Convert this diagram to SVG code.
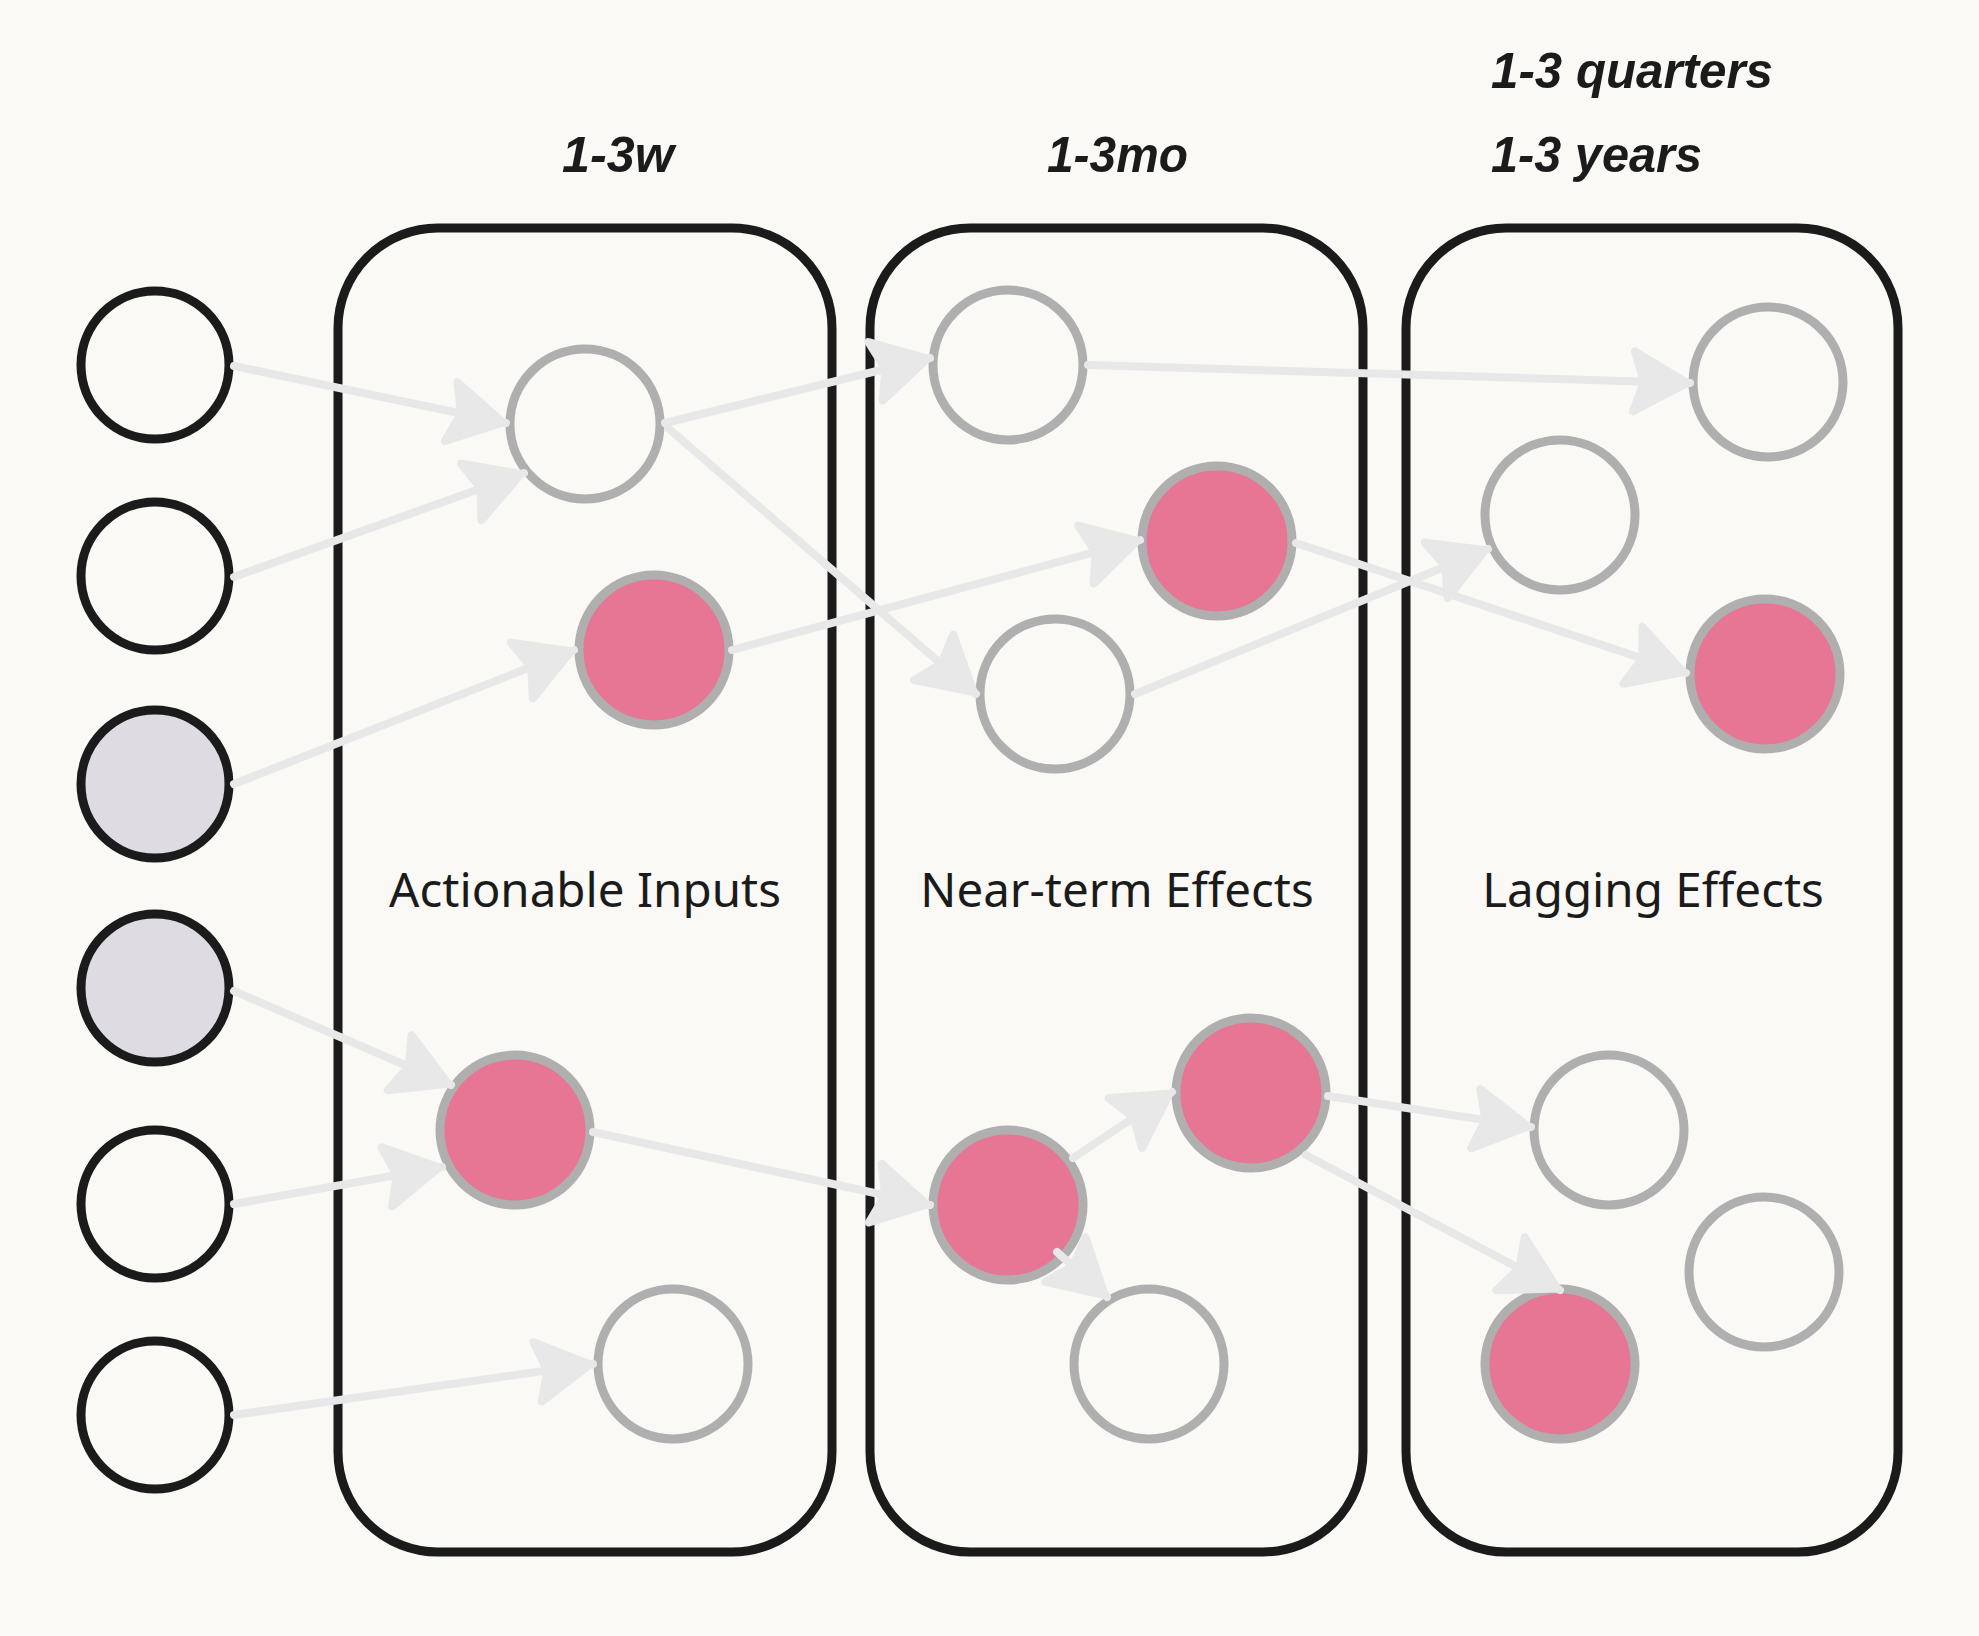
<svg xmlns="http://www.w3.org/2000/svg" width="1979" height="1636" viewBox="0 0 1979 1636">
  <defs>
    <style>
      .box { fill: none; stroke: #1b1b1b; stroke-width: 9; }
      .src { stroke: #1b1b1b; stroke-width: 9; fill: none; }
      .src.alt { fill: #dedbe3; }
      .node { stroke: #afafaf; stroke-width: 9; fill: none; }
      .node.hot { fill: #e77594; }
      .conn { stroke: #e8e8e8; stroke-width: 8; stroke-linecap: round; fill: none; marker-end: url(#ah); }
      .lbl { font-family: "Noto Sans", "Liberation Sans", sans-serif; font-size: 47.5px; fill: #1b1b1b; text-anchor: middle; }
      .hand { font-family: "Liberation Sans", "DejaVu Sans", sans-serif; font-size: 50px; font-weight: bold; font-style: italic; fill: #1b1b1b; }
    </style>
    <marker id="ah" markerUnits="userSpaceOnUse" markerWidth="90" markerHeight="90" viewBox="-70 -45 90 90" refX="0" refY="0" orient="auto" overflow="visible">
      <path d="M-3,0 L-56,-30 L-46,0 L-56,30 Z" fill="#e8e8e8" stroke="#e8e8e8" stroke-width="8" stroke-linejoin="round"/>
    </marker>
  </defs>
  <rect x="0" y="0" width="1979" height="1636" fill="#faf9f5"/>

  <g id="containers">
    <g id="box-actionable">
      <rect class="box" x="338" y="228" width="494" height="1324" rx="100" ry="100"/>
      <text class="lbl" x="585" y="907">Actionable Inputs</text>
    </g>
    <g id="box-nearterm">
      <rect class="box" x="870" y="228" width="493" height="1324" rx="100" ry="100"/>
      <text class="lbl" x="1117" y="907">Near-term Effects</text>
    </g>
    <g id="box-lagging">
      <rect class="box" x="1406" y="228" width="492" height="1324" rx="100" ry="100"/>
      <text class="lbl" x="1653" y="907">Lagging Effects</text>
    </g>
  </g>

  <g id="time-labels">
    <text class="hand" x="562" y="172" textLength="112" lengthAdjust="spacingAndGlyphs">1-3w</text>
    <text class="hand" x="1047" y="172" textLength="141" lengthAdjust="spacingAndGlyphs">1-3mo</text>
    <text class="hand" x="1491" y="88" textLength="282" lengthAdjust="spacingAndGlyphs">1-3 quarters</text>
    <text class="hand" x="1491" y="172" textLength="211" lengthAdjust="spacingAndGlyphs">1-3 years</text>
  </g>

  <g id="sources">
    <g id="L1"><circle class="src" cx="155" cy="365" r="74"/></g>
    <g id="L2"><circle class="src" cx="155" cy="576" r="74"/></g>
    <g id="L3"><circle class="src alt" cx="155" cy="784" r="74"/></g>
    <g id="L4"><circle class="src alt" cx="155" cy="988" r="74"/></g>
    <g id="L5"><circle class="src" cx="155" cy="1204" r="74"/></g>
    <g id="L6"><circle class="src" cx="155" cy="1415" r="74"/></g>
  </g>

  <g id="nodes">
    <g id="A1"><circle class="node" cx="585" cy="424" r="75"/></g>
    <g id="A2"><circle class="node hot" cx="654" cy="650" r="75"/></g>
    <g id="A3"><circle class="node hot" cx="515" cy="1130" r="75"/></g>
    <g id="A4"><circle class="node" cx="673" cy="1364" r="75"/></g>

    <g id="B1"><circle class="node" cx="1008" cy="365" r="75"/></g>
    <g id="B2"><circle class="node hot" cx="1217" cy="541" r="75"/></g>
    <g id="B3"><circle class="node" cx="1055" cy="694" r="75"/></g>
    <g id="B4"><circle class="node hot" cx="1251" cy="1093" r="75"/></g>
    <g id="B5"><circle class="node hot" cx="1008" cy="1205" r="75"/></g>
    <g id="B6"><circle class="node" cx="1149" cy="1364" r="75"/></g>

    <g id="C1"><circle class="node" cx="1768" cy="382" r="75"/></g>
    <g id="C2"><circle class="node" cx="1560" cy="515" r="75"/></g>
    <g id="C3"><circle class="node hot" cx="1765" cy="674" r="75"/></g>
    <g id="C4"><circle class="node" cx="1609" cy="1130" r="75"/></g>
    <g id="C5"><circle class="node" cx="1764" cy="1272" r="75"/></g>
    <g id="C6"><circle class="node hot" cx="1560" cy="1364" r="75"/></g>
  </g>

  <g id="connectors">
    <line class="conn" x1="234" y1="366" x2="506" y2="423"/>
    <line class="conn" x1="234" y1="577" x2="524" y2="473"/>
    <line class="conn" x1="234" y1="784" x2="574" y2="650"/>
    <line class="conn" x1="234" y1="991" x2="451" y2="1085"/>
    <line class="conn" x1="234" y1="1204" x2="442" y2="1167"/>
    <line class="conn" x1="234" y1="1415" x2="593" y2="1364"/>
    <line class="conn" x1="665" y1="423" x2="930" y2="358"/>
    <line class="conn" x1="668" y1="428" x2="976" y2="694"/>
    <line class="conn" x1="732" y1="650" x2="1140" y2="540"/>
    <line class="conn" x1="593" y1="1132" x2="930" y2="1205"/>
    <line class="conn" x1="1088" y1="365" x2="1690" y2="383"/>
    <line class="conn" x1="1296" y1="543" x2="1686" y2="673"/>
    <line class="conn" x1="1135" y1="694" x2="1488" y2="549"/>
    <line class="conn" x1="1057" y1="1252" x2="1107" y2="1297"/>
    <line class="conn" x1="1073" y1="1158" x2="1172" y2="1092"/>
    <line class="conn" x1="1328" y1="1096" x2="1531" y2="1127"/>
    <line class="conn" x1="1306" y1="1155" x2="1560" y2="1290"/>
  </g>
</svg>
